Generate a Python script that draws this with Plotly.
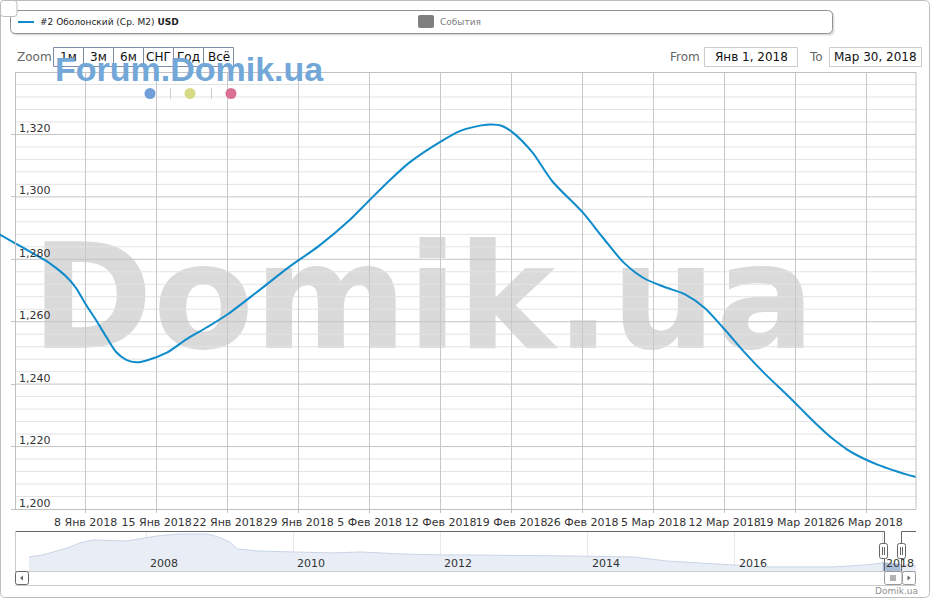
import plotly.graph_objects as go
import pandas as pd

W, H = 931, 600

# ---------------- data ----------------
dates = ["2017-12-30", "2018-01-01", "2018-01-02", "2018-01-03", "2018-01-04", "2018-01-05",
         "2018-01-06", "2018-01-07", "2018-01-08", "2018-01-09", "2018-01-10", "2018-01-11",
         "2018-01-12", "2018-01-13", "2018-01-14", "2018-01-16", "2018-01-18", "2018-01-20",
         "2018-01-22", "2018-01-25", "2018-01-28", "2018-01-31", "2018-02-03", "2018-02-05",
         "2018-02-07", "2018-02-09", "2018-02-12", "2018-02-14", "2018-02-16", "2018-02-17",
         "2018-02-18", "2018-02-19", "2018-02-21", "2018-02-23", "2018-02-26", "2018-02-28",
         "2018-03-02", "2018-03-04", "2018-03-06", "2018-03-08", "2018-03-10", "2018-03-12",
         "2018-03-14", "2018-03-16", "2018-03-18", "2018-03-19", "2018-03-20", "2018-03-21",
         "2018-03-22", "2018-03-23", "2018-03-24", "2018-03-25", "2018-03-26", "2018-03-27",
         "2018-03-28", "2018-03-29", "2018-03-30", "2018-03-31"]
values = [1288.9, 1285.2, 1283.4, 1281.5, 1279.7, 1277.4,
          1274.7, 1271.0, 1265.6, 1260.6, 1255.3, 1250.3,
          1247.8, 1247.0, 1247.6, 1250.1, 1254.5, 1258.3,
          1262.4, 1269.8, 1277.4, 1284.3, 1292.5, 1299.0,
          1305.4, 1311.2, 1317.7, 1321.2, 1322.9, 1323.2,
          1322.8, 1320.9, 1314.4, 1305.0, 1295.0, 1286.9,
          1279.1, 1274.0, 1271.2, 1268.9, 1264.5, 1257.5,
          1250.0, 1243.2, 1237.0, 1233.8, 1230.5, 1227.3,
          1224.3, 1221.6, 1219.2, 1217.3, 1215.7, 1214.3,
          1213.1, 1212.0, 1211.0, 1210.1]

y_ticks = [1200, 1220, 1240, 1260, 1280, 1300, 1320]
y_tick_labels = ["1,200", "1,220", "1,240", "1,260", "1,280", "1,300", "1,320"]
y_minor_step = 4
y_min, y_max = 1200, 1340
x_tick_dates = ["2018-01-08", "2018-01-15", "2018-01-22", "2018-01-29", "2018-02-05", "2018-02-12",
                "2018-02-19", "2018-02-26", "2018-03-05", "2018-03-12", "2018-03-19", "2018-03-26"]
month_names = {1: "Янв", 2: "Фев", 3: "Мар"}
x_tick_text = [f"{d.day} {month_names[d.month]} {d.year}" for d in pd.to_datetime(x_tick_dates)]

# navigator (whole history)
nav_years = [2006.41, 2006.60, 2006.79, 2006.97, 2007.10, 2007.28, 2007.74, 2008.01, 2008.15,
             2008.46, 2008.83, 2008.96, 2009.14, 2009.24, 2009.51, 2010.00, 2010.54, 2010.91,
             2011.45, 2012.04, 2012.35, 2013.71, 2014.62, 2015.07, 2015.53, 2015.98, 2016.42,
             2017.33, 2017.78, 2018.01, 2018.25, 2018.46]
nav_values = [1752, 1861, 2078, 2295, 2512, 2674, 2620, 2783, 2891,
              3000, 3000, 2864, 2566, 2186, 2078, 2024, 1969, 2024,
              1915, 1861, 1861, 1807, 1752, 1535, 1427, 1318, 1210,
              1210, 1318, 1427, 1340, 1264]
nav_year_ticks = [2008, 2010, 2012, 2014, 2016, 2018]
sel_start, sel_end = 2018.0, 2018.26

LINE_COLOR = "#0d8bcb"
FONT = "DejaVu Sans"


def X(x):
    return x / W


def Y(y):
    return 1 - y / H


def rrect(x0, y0, x1, y1, r):
    return (f"M{X(x0 + r)},{Y(y0)} L{X(x1 - r)},{Y(y0)} Q{X(x1)},{Y(y0)} {X(x1)},{Y(y0 + r)} "
            f"L{X(x1)},{Y(y1 - r)} Q{X(x1)},{Y(y1)} {X(x1 - r)},{Y(y1)} "
            f"L{X(x0 + r)},{Y(y1)} Q{X(x0)},{Y(y1)} {X(x0)},{Y(y1 - r)} "
            f"L{X(x0)},{Y(y0 + r)} Q{X(x0)},{Y(y0)} {X(x0 + r)},{Y(y0)} Z")


fig = go.Figure()

fig.add_trace(go.Scatter(x=dates, y=values, mode="lines",
                         line=dict(color=LINE_COLOR, width=2, shape="spline", smoothing=0.8),
                         hoverinfo="skip", showlegend=False, xaxis="x", yaxis="y"))

# navigator series
fig.add_trace(go.Scatter(x=nav_years, y=nav_values, mode="lines", fill="tozeroy",
                         fillcolor="#e9eef6", line=dict(color="#c9d4e6", width=1),
                         hoverinfo="skip", showlegend=False, xaxis="x2", yaxis="y2"))
sel_x = [v for v in nav_years if sel_start <= v <= sel_end]
sel_y = [nav_values[i] for i, v in enumerate(nav_years) if sel_start <= v <= sel_end]
fig.add_trace(go.Scatter(x=sel_x, y=sel_y, mode="lines", fill="tozeroy",
                         fillcolor="#a9bcd8", line=dict(color="#a9bcd8", width=1),
                         hoverinfo="skip", showlegend=False, xaxis="x2", yaxis="y2"))

shapes = []
annotations = []

# outer chart border
shapes.append(dict(type="path", path=rrect(0.5, 0.5, 929.5, 597.5, 5), xref="paper", yref="paper",
                   line=dict(color="#bdbdbd", width=1), fillcolor="rgba(0,0,0,0)", layer="below"))

# watermark
shapes.append(dict(type="rect", xref="paper", yref="paper", x0=X(20), x1=X(826), y0=Y(341), y1=Y(232),
                   line=dict(width=0), fillcolor="rgba(0,0,0,0)", layer="below",
                   label=dict(text="<b>Domik.ua</b>", textposition="middle center",
                              font=dict(size=147, color="#dadada", family=FONT))))

# horizontal grid lines (start at the y axis)
for v in range(y_min + y_minor_step, y_max, y_minor_step):
    major = v in y_ticks
    shapes.append(dict(type="line", xref="paper", yref="y", x0=X(15), x1=X(916), y0=v, y1=v,
                       line=dict(color="#c4c4c4" if major else "#e3e3e3", width=1), layer="below"))

# plot frame lines
shapes.append(dict(type="line", xref="paper", yref="paper", x0=X(15), x1=X(916), y0=Y(72.5), y1=Y(72.5),
                   line=dict(color="#c0c0c0", width=1)))
shapes.append(dict(type="line", xref="paper", yref="paper", x0=X(15), x1=X(916), y0=Y(509.5), y1=Y(509.5),
                   line=dict(color="#c0c0c0", width=1)))
shapes.append(dict(type="line", xref="paper", yref="paper", x0=X(916), x1=X(916), y0=Y(72), y1=Y(509),
                   line=dict(color="#c0c0c0", width=1)))

# y labels
for v, t in zip(y_ticks, y_tick_labels):
    annotations.append(dict(x=X(17), y=v, xref="paper", yref="y", text=t, showarrow=False,
                            xanchor="left", yanchor="middle", yshift=6,
                            font=dict(size=11, color="#333333", family=FONT)))

# legend box
shapes.append(dict(type="path", path=rrect(11.5, 11.5, 834.5, 35.5, 5), xref="paper", yref="paper",
                   line=dict(width=0), fillcolor="rgba(0,0,0,0.12)"))
shapes.append(dict(type="path", path=rrect(10.5, 10.5, 832.5, 33.5, 5), xref="paper", yref="paper",
                   line=dict(color="#909090", width=1), fillcolor="white"))
shapes.append(dict(type="line", xref="paper", yref="paper", x0=X(18), x1=X(34), y0=Y(22), y1=Y(22),
                   line=dict(color=LINE_COLOR, width=2)))
annotations.append(dict(x=X(38), y=Y(22), xref="paper", yref="paper",
                        text="#2 Оболонский (Ср. M2) <b>USD</b>", showarrow=False,
                        xanchor="left", yanchor="middle", font=dict(size=9, color="#222222", family=FONT)))
shapes.append(dict(type="path", path=rrect(418, 15, 434, 28, 2), xref="paper", yref="paper",
                   line=dict(width=0), fillcolor="#7f7f7f"))
annotations.append(dict(x=X(438), y=Y(22), xref="paper", yref="paper", text="События", showarrow=False,
                        xanchor="left", yanchor="middle", font=dict(size=9, color="#808080", family=FONT)))

# top-left small button
shapes.append(dict(type="path", path=rrect(0.5, 0.5, 17, 16.5, 3), xref="paper", yref="paper",
                   line=dict(color="#bbbbbb", width=1), fillcolor="white"))

# zoom buttons
annotations.append(dict(x=X(15), y=Y(57), xref="paper", yref="paper", text="Zoom", showarrow=False,
                        xanchor="left", yanchor="middle", font=dict(size=12, color="#666666", family=FONT)))
btn_labels = ["1м", "3м", "6м", "СНГ", "Год", "Всё"]
for i, lab in enumerate(btn_labels):
    x0 = 53.5 + 30 * i
    shapes.append(dict(type="rect", xref="paper", yref="paper", x0=X(x0), x1=X(x0 + 30), y0=Y(47.5), y1=Y(66.5),
                       line=dict(color="#7d8da8", width=1), fillcolor="white"))
    annotations.append(dict(x=X(x0 + 15), y=Y(57), xref="paper", yref="paper", text=lab, showarrow=False,
                            xanchor="center", yanchor="middle", borderpad=0,
                            font=dict(size=12, color="#111111", family=FONT)))

# From / To
annotations.append(dict(x=X(668), y=Y(57), xref="paper", yref="paper", text="From", showarrow=False,
                        xanchor="left", yanchor="middle", font=dict(size=12, color="#666666", family=FONT)))
annotations.append(dict(x=X(807), y=Y(57), xref="paper", yref="paper", text="To", showarrow=False,
                        xanchor="left", yanchor="middle", font=dict(size=12, color="#666666", family=FONT)))
for (x0, x1, txt) in [(704.5, 797.5, "Янв 1, 2018"), (829.5, 921.5, "Мар 30, 2018")]:
    shapes.append(dict(type="rect", xref="paper", yref="paper", x0=X(x0), x1=X(x1), y0=Y(47.5), y1=Y(66.5),
                       line=dict(color="#cccccc", width=1), fillcolor="white"))
    annotations.append(dict(x=X((x0 + x1) / 2), y=Y(57), xref="paper", yref="paper", text=txt, showarrow=False,
                            xanchor="center", yanchor="middle", font=dict(size=12, color="#111111", family=FONT)))

# Forum watermark + dots
annotations.append(dict(x=X(53), y=Y(69), xref="paper", yref="paper", text="<b>Forum.Domik.ua</b>",
                        showarrow=False, xanchor="left", yanchor="middle",
                        font=dict(size=34, color="#72a7d8", family="Liberation Sans")))
for cx, col in [(150, "#6f9fd6"), (190, "#d8db86"), (231, "#da7192")]:
    shapes.append(dict(type="circle", xref="paper", yref="paper", x0=X(cx - 5.5), x1=X(cx + 5.5),
                       y0=Y(88), y1=Y(99), line=dict(width=0), fillcolor=col))
for sx in [170.5, 211.5]:
    shapes.append(dict(type="line", xref="paper", yref="paper", x0=X(sx), x1=X(sx), y0=Y(88), y1=Y(99),
                       line=dict(color="#cfcfcf", width=1)))

# navigator year labels
for yr in nav_year_ticks:
    annotations.append(dict(x=yr, y=Y(563), xref="x2", yref="paper", text=str(yr), showarrow=False,
                            xanchor="left", yanchor="middle", xshift=2,
                            font=dict(size=11, color="#333333", family=FONT)))

# navigator outline
shapes.append(dict(type="path", xref="paper", yref="paper",
                   path=f"M{X(15)},{Y(531.5)} L{X(884.5)},{Y(531.5)} L{X(884.5)},{Y(571.5)} "
                        f"L{X(901.5)},{Y(571.5)} L{X(901.5)},{Y(531.5)} L{X(916)},{Y(531.5)}",
                   line=dict(color="#666666", width=1)))
shapes.append(dict(type="line", xref="paper", yref="paper", x0=X(15.5), x1=X(15.5), y0=Y(531), y1=Y(571),
                   line=dict(color="#cccccc", width=1)))
# handles
for hx in [883.5, 901.5]:
    shapes.append(dict(type="path", path=rrect(hx - 4, 543.5, hx + 4, 558.5, 2), xref="paper", yref="paper",
                       line=dict(color="#666666", width=1), fillcolor="white"))
    for gx in [hx - 1, hx + 1]:
        shapes.append(dict(type="line", xref="paper", yref="paper", x0=X(gx), x1=X(gx), y0=Y(547), y1=Y(555),
                           line=dict(color="#666666", width=1)))

# scrollbar
shapes.append(dict(type="line", xref="paper", yref="paper", x0=X(15), x1=X(916), y0=Y(571.5), y1=Y(571.5),
                   line=dict(color="#cccccc", width=1)))
shapes.append(dict(type="line", xref="paper", yref="paper", x0=X(15), x1=X(916), y0=Y(585.5), y1=Y(585.5),
                   line=dict(color="#cccccc", width=1)))
shapes.append(dict(type="path", path=rrect(15.5, 571.5, 28.5, 584.5, 2), xref="paper", yref="paper",
                   line=dict(color="#666666", width=1), fillcolor="white"))
shapes.append(dict(type="path", path=f"M{X(23)},{Y(575.5)} L{X(20)},{Y(578)} L{X(23)},{Y(580.5)} Z",
                   xref="paper", yref="paper", line=dict(width=0), fillcolor="#666666"))
shapes.append(dict(type="path", path=rrect(884.5, 571.5, 902, 584.5, 2), xref="paper", yref="paper",
                   line=dict(color="#999999", width=1), fillcolor="white"))
for gx in [891, 893, 895]:
    shapes.append(dict(type="line", xref="paper", yref="paper", x0=X(gx), x1=X(gx), y0=Y(575), y1=Y(581),
                       line=dict(color="#666666", width=1)))
shapes.append(dict(type="path", path=rrect(902.5, 571.5, 915.5, 584.5, 2), xref="paper", yref="paper",
                   line=dict(color="#999999", width=1), fillcolor="white"))
shapes.append(dict(type="path", path=f"M{X(907.5)},{Y(575.5)} L{X(910.5)},{Y(578)} L{X(907.5)},{Y(580.5)} Z",
                   xref="paper", yref="paper", line=dict(width=0), fillcolor="#666666"))

# credit
annotations.append(dict(x=X(920), y=Y(591), xref="paper", yref="paper", text="Domik.ua", showarrow=False,
                        xanchor="right", yanchor="middle", font=dict(size=9, color="#909090", family=FONT)))

fig.update_layout(
    width=W, height=H,
    margin=dict(l=0, r=0, t=0, b=0, autoexpand=False),
    paper_bgcolor="white", plot_bgcolor="rgba(0,0,0,0)",
    showlegend=False,
    font=dict(family=FONT, size=11, color="#333333"),
    xaxis=dict(domain=[0, 916 / W], range=["2017-12-30 13:13", "2018-03-30 20:38"], type="date",
               tickvals=x_tick_dates, ticktext=x_tick_text, tickangle=0,
               showgrid=True, gridcolor="#c8c8c8", gridwidth=1,
               ticks="outside", ticklen=3, tickcolor="#c0c0c0",
               tickfont=dict(size=11, color="#333333", family=FONT),
               showline=False, zeroline=False, fixedrange=True, anchor="y"),
    yaxis=dict(domain=[1 - 509 / H, 1 - 72 / H], range=[y_min, y_max],
               anchor="free", position=15 / W,
               tickvals=y_ticks, showticklabels=False, showgrid=False,
               ticks="outside", ticklen=4, tickcolor="#c0c0c0",
               showline=True, linecolor="#c0c0c0", linewidth=1,
               zeroline=False, fixedrange=True),
    xaxis2=dict(domain=[15 / W, 916 / W], range=[2006.22, 2018.462], anchor="y2",
                tickvals=nav_year_ticks, showticklabels=False,
                showgrid=True, gridcolor="#e8e8e8", zeroline=False, showline=False, fixedrange=True),
    yaxis2=dict(domain=[1 - 571 / H, 1 - 531 / H], range=[990, 3160], anchor="x2",
                showticklabels=False, showgrid=False, zeroline=False, showline=False, fixedrange=True),
    shapes=shapes,
    annotations=annotations,
)

fig.write_html("out.html", config={"displayModeBar": False},
               post_script="document.body.style.margin='0px';")
